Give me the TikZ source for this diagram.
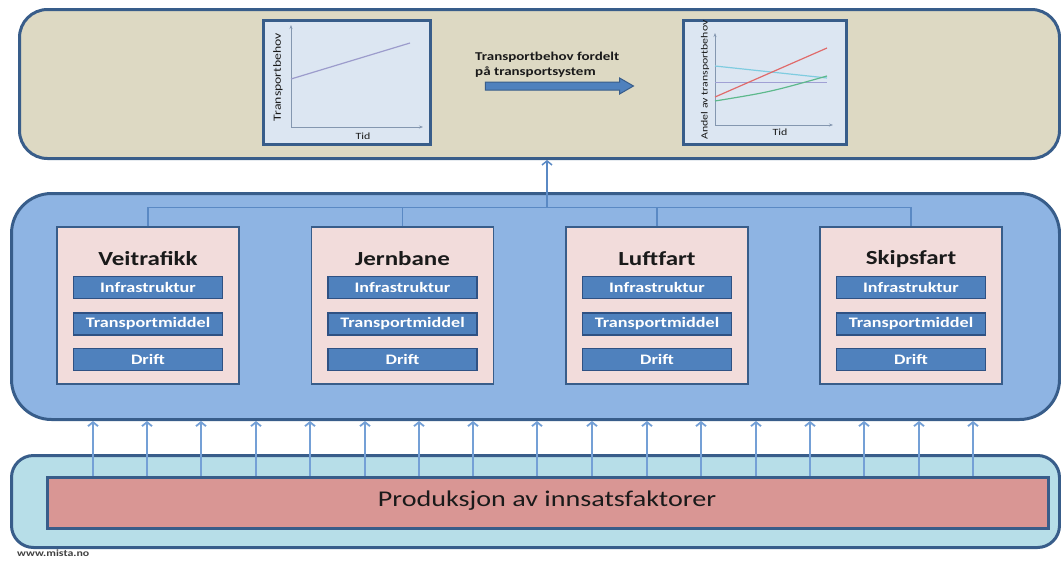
\documentclass[tikz,border=0pt]{standalone}
\usepackage{fontspec}
\setmainfont{Carlito}[FakeStretch=1.25]
\usetikzlibrary{arrows.meta,shapes.arrows}
\definecolor{beige}{HTML}{DDD9C3}
\definecolor{navy}{HTML}{385D8A}
\definecolor{midblue}{HTML}{8EB4E3}
\definecolor{pinkbox}{HTML}{F2DCDB}
\definecolor{subblue}{HTML}{4F81BD}
\definecolor{subedge}{HTML}{2F5183}
\definecolor{lightcyan}{HTML}{B7DEE8}
\definecolor{prodred}{HTML}{D99694}
\definecolor{chartbg}{HTML}{DCE6F2}
\definecolor{arrowblue}{HTML}{74A0D6}
\definecolor{linkblue}{HTML}{5A89C4}
\definecolor{axisgray}{HTML}{8497B0}
\definecolor{lineviolet}{HTML}{9C9CCC}
\definecolor{linered}{HTML}{E06B6B}
\definecolor{linecyan}{HTML}{7FCCE0}
\definecolor{linepurple}{HTML}{A0A0D4}
\definecolor{linegreen}{HTML}{5DB98C}
\definecolor{textdark}{HTML}{1A1A1A}
\tikzset{
  panel/.style={draw=navy, line width=3pt, anchor=north west, inner sep=0pt},
  chartframe/.style={draw=navy, line width=2.5pt, fill=chartbg, anchor=north west, inner sep=0pt},
  modebox/.style={draw=navy, line width=1.5pt, fill=pinkbox, minimum width=182pt, minimum height=157pt, inner sep=0pt},
  subbox/.style={draw=subedge, line width=1.5pt, fill=subblue, minimum width=149pt, minimum height=22pt, inner sep=0pt,
    text=white, font=\bfseries\fontsize{14.5}{14.5}\selectfont},
  modetitle/.style={font=\bfseries\fontsize{20}{20}\selectfont, text=textdark, inner sep=0pt},
  uparrow/.style={draw=arrowblue, line width=1.8pt, -{Straight Barb[length=4pt,width=10pt]}},
  link/.style={draw=linkblue, line width=1.5pt},
  axis/.style={draw=axisgray, line width=0.9pt, -{Stealth[length=4pt,width=3pt]}},
  axlabel/.style={font=\fontsize{9.5}{9.5}\selectfont, text=textdark, inner sep=0pt},
}
\begin{document}
\begin{tikzpicture}[x=1pt,y=-1pt]
\useasboundingbox (0,0) rectangle (1061,560);

% panels
\node[panel, fill=beige, rounded corners=28pt, minimum width=1040pt, minimum height=149pt] (top) at (18,8) {};
\node[panel, fill=midblue, rounded corners=40pt, minimum width=1048pt, minimum height=226pt] (mid) at (10,192) {};
\node[panel, fill=lightcyan, rounded corners=22pt, minimum width=1048pt, minimum height=92pt] (bot) at (10,454) {};
\node[panel, fill=prodred, line width=2.5pt, rounded corners=0pt, minimum width=1001pt, minimum height=51pt] (prod) at (46,476) {};
\node[font=\fontsize{22.5}{22.5}\selectfont, text=textdark] (prodlbl) at (547,501) {Produksjon av innsatsfaktorer};

% charts
\node[chartframe, minimum width=167pt, minimum height=124pt] (lc) at (262,19) {};
\node[chartframe, minimum width=163pt, minimum height=124pt] (rc) at (682,19) {};

\coordinate (lo) at (291,127);
\coordinate (ly) at (291,25);
\coordinate (lx) at (423,127);
\draw[axis] (lo) -- (ly);
\draw[axis] (lo) -- (lx);
\draw[draw=lineviolet, line width=1.2pt] (291,79) -- (410,43);
\node[axlabel, rotate=90, font=\fontsize{11}{11}\selectfont] (lyl) at (278,77) {Transportbehov};
\node[axlabel] (lxl) at (363,136) {Tid};

\coordinate (ro) at (715,125);
\coordinate (ry) at (715,33);
\coordinate (rx) at (833,125);
\draw[axis] (ro) -- (ry);
\draw[axis] (ro) -- (rx);
\draw[draw=linecyan, line width=1.2pt] (715,66) -- (827,78);
\draw[draw=linepurple, line width=1pt] (715,82) -- (827,82);
\draw[draw=linegreen, line width=1.2pt] (715,101) .. controls (770,92) .. (827,76);
\draw[draw=linered, line width=1.2pt] (715,97) -- (827,48);
\node[axlabel, rotate=90] (ryl) at (705,80) {Andel av transportbehov};
\node[axlabel] (rxl) at (780,132) {Tid};

% heading and big arrow
\node[anchor=west, align=left, inner sep=0pt, text=textdark,
      font=\bfseries\fontsize{12}{15}\selectfont] (head) at (475,65)
  {Transportbehov fordelt\\på transportsystem};
\node[single arrow, draw=navy, line width=1pt, fill=subblue, inner sep=0pt, inner ysep=3.5pt,
      minimum height=148pt, minimum width=15pt, single arrow head extend=4pt,
      single arrow tip angle=60] (bigarrow) at (556,86) {};

% transport mode boxes
\foreach \nm/\lbl/\cx in {vei/Veitrafikk/148, jern/Jernbane/402.5, luft/Luftfart/657, skip/Skipsfart/911}{
  \node[modebox] (\nm) at (\cx,305.5) {};
  \node[modetitle] (\nm t) at (\cx,259) {\lbl};
  \node[subbox] (\nm i) at (\cx,287.5) {Infrastruktur};
  \node[subbox] (\nm m) at (\cx,324) {Transportmiddel};
  \node[subbox] (\nm d) at (\cx,359.5) {Drift};
}

% bracket and arrow to top
\coordinate (bar) at (547,207.5);
\draw[link] (vei.north) -- (vei.north |- bar) -- (skip.north |- bar) -- (skip.north);
\draw[link] (jern.north) -- (jern.north |- bar);
\draw[link] (luft.north) -- (luft.north |- bar);
\draw[link, -{Straight Barb[length=4pt,width=10pt]}] (bar) -- (top.south -| bar);

% up arrows from production
\foreach \x in {93,147,201,256,310,365,419,473,537,592,647,701,756,810,864,919,973}{
  \draw[uparrow] (prod.north -| \x,0) -- (mid.south -| \x,0);
}

% watermark
\node[anchor=west, inner sep=0pt, text=black!75, font=\bfseries\fontsize{9.5}{9.5}\selectfont] (wm) at (17,553) {www.mista.no};
\end{tikzpicture}
\end{document}
